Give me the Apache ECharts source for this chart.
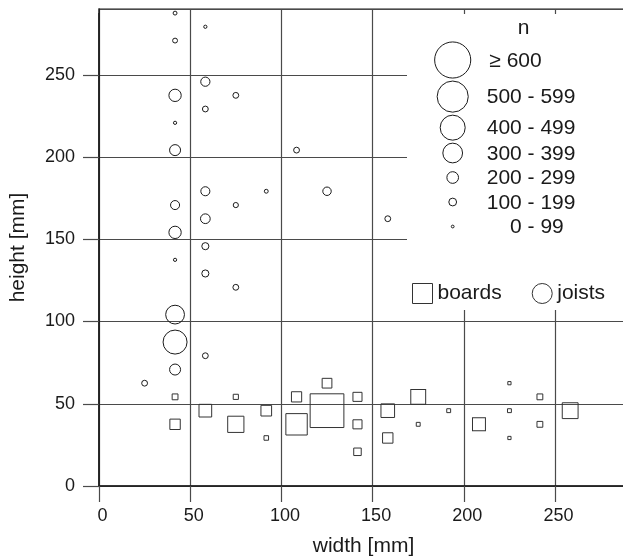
<!DOCTYPE html>
<html>
<head>
<meta charset="utf-8">
<script src="https://cdn.jsdelivr.net/npm/echarts@6/dist/echarts.min.js"></script>
<style>
  html, body { margin: 0; padding: 0; background: #fff; }
  #chart { width: 623px; height: 558px; }
</style>
</head>
<body>
<div id="chart"></div>
<script>
// Cross-section dimensions [mm] of sawn timber members and the number of pieces n per size
const boardWidth  = [41.7, 75.0, 58.3, 41.7, 75.0, 91.7, 91.7, 108.3, 108.3, 125.0, 125.0, 141.7, 141.7, 141.7, 158.3, 158.3, 175.0, 175.0, 191.7, 208.3, 225.0, 225.0, 225.0, 241.7, 241.7, 258.3];
const boardHeight = [54.2, 54.2, 45.8, 37.5, 37.5, 45.8, 29.2, 54.2, 37.5, 62.5, 45.8, 54.2, 37.5, 20.8, 45.8, 29.2, 54.2, 37.5, 45.8, 37.5, 62.5, 45.8, 29.2, 54.2, 37.5, 45.8];
const boardCount  = [105, 93, 228, 187, 292, 192, 82, 184, 385, 175, 607, 163, 163, 135, 245, 187, 268, 70, 70, 233, 58, 70, 58, 105, 105, 285];

const joistWidth  = [41.7, 58.3, 41.7, 58.3, 41.7, 75.0, 58.3, 41.7, 41.7, 108.3, 58.3, 91.7, 125.0, 41.7, 75.0, 58.3, 158.3, 41.7, 58.3, 41.7, 58.3, 75.0, 41.7, 41.7, 58.3, 41.7, 25.0];
const joistHeight = [287.5, 279.2, 270.8, 245.8, 237.5, 237.5, 229.2, 220.8, 204.2, 204.2, 179.2, 179.2, 179.2, 170.8, 170.8, 162.5, 162.5, 154.2, 145.8, 137.5, 129.2, 120.8, 104.2, 87.5, 79.2, 70.8, 62.5];
const joistCount  = [70, 58, 88, 166, 222, 105, 105, 58, 198, 105, 163, 70, 152, 163, 93, 175, 105, 222, 128, 58, 128, 105, 338, 432, 105, 198, 105];

const xTicks = [0, 50, 100, 150, 200, 250];
const yTicks = [0, 50, 100, 150, 200, 250];

// size classes of the n legend and a representative count for each
const sizeClassLabels = ['\u2265 600', '500 - 599', '400 - 499', '300 - 399', '200 - 299', '100 - 199', '0 - 99'];
const sizeClassCount  = [650, 560, 450, 355, 210, 140, 50];

const FONT = '"Liberation Sans", Arial, Helvetica, sans-serif';
const INK = '#1a1a1a';
const GRID = '#4a4a4a';
const AXIS_MAX = 290;
const TICK_LEN = 16;

// symbol edge length / diameter grows linearly with n
const sizeOf = n => Math.max(2.5, n / 18);

const pairs = (xs, ys, ns) => xs.map((x, i) => [x, ys[i], ns[i]]);

function textWidth(str, font) {
  const ctx = document.createElement('canvas').getContext('2d');
  ctx.font = font;
  return ctx.measureText(str).width;
}

function axis(name, nameGap, ticks, labelGap, labelPadding) {
  return {
    type: 'value',
    min: 0,
    max: AXIS_MAX,
    interval: 50,
    name: name,
    nameLocation: 'middle',
    nameGap: nameGap,
    nameTextStyle: { fontSize: 21, color: INK, fontFamily: FONT },
    axisLine: { show: true, onZero: false, lineStyle: { color: INK, width: 1.6 } },
    axisTick: { show: true, inside: false, length: TICK_LEN, lineStyle: { color: GRID, width: 1.2 } },
    axisLabel: {
      show: true, margin: TICK_LEN + labelGap, fontSize: 18, color: INK, fontFamily: FONT, padding: labelPadding,
      showMaxLabel: false,
      formatter: v => (ticks.indexOf(v) >= 0 ? String(v) : '')
    },
    splitLine: { show: true, lineStyle: { color: GRID, width: 1.2 } }
  };
}

// n legend: circles stacked with spacing driven by their size
const legendFont = '21px ' + FONT;
const legendCx = 452.7;
const hyphenX = 527.6;
const legendElements = [];
let rowY = 60;
sizeClassCount.forEach((n, i) => {
  const d = sizeOf(n);
  if (i > 0) {
    const prev = sizeOf(sizeClassCount[i - 1]);
    rowY += Math.max(prev / 2 + d / 2 + 3, 24.5);
  }
  legendElements.push({
    type: 'circle',
    z: 5,
    shape: { cx: legendCx, cy: rowY, r: d / 2 },
    style: { fill: 'none', stroke: INK, lineWidth: 1 }
  });
  const label = sizeClassLabels[i];
  const cut = label.indexOf(' - ');
  const left = cut >= 0 ? hyphenX - textWidth(label.slice(0, cut) + ' ', legendFont) : 489.3;
  legendElements.push({
    type: 'text',
    z: 5,
    x: left,
    y: rowY + 1,
    style: { text: label, font: legendFont, fill: INK, align: 'left', verticalAlign: 'middle' }
  });
});
legendElements.push({
  type: 'text',
  z: 5,
  x: 523.5,
  y: 28,
  style: { text: 'n', font: legendFont, fill: INK, align: 'center', verticalAlign: 'middle' }
});

const chart = echarts.init(document.getElementById('chart'), null, { renderer: 'canvas' });

chart.setOption({
  animation: false,
  backgroundColor: '#fff',
  textStyle: { fontFamily: FONT },
  grid: {
    left: 99, top: 9, right: -5, bottom: 72,
    show: true, borderColor: INK, borderWidth: 1.2, backgroundColor: 'transparent',
    containLabel: false, outerBoundsMode: 'none'
  },
  xAxis: axis('width [mm]', 50, xTicks, 5, [0, 0, 0, 7]),
  yAxis: axis('height [mm]', 70, yTicks, 8, 0),
  legend: {
    data: [{ name: 'boards', icon: 'rect' }, { name: 'joists', icon: 'circle' }],
    left: 412, top: 283, padding: 0,
    itemWidth: 20, itemHeight: 20, itemGap: 30,
    selectedMode: false,
    itemStyle: { color: '#fff', borderColor: '#333', borderWidth: 1 },
    textStyle: { fontSize: 21, color: INK, fontFamily: FONT },
    z: 6
  },
  graphic: [
    // white backdrop that clears the grid behind the legends
    { type: 'rect', z: 3, shape: { x: 407, y: 14, width: 230, height: 296 }, style: { fill: '#fff' } },
    // the axis end at the top carries no tick
    { type: 'rect', z: 3, shape: { x: 78, y: 5, width: 20.2, height: 8 }, style: { fill: '#fff' } },
    ...legendElements
  ],
  series: [
    {
      name: 'boards',
      type: 'scatter',
      symbol: 'rect',
      data: pairs(boardWidth, boardHeight, boardCount),
      symbolSize: v => sizeOf(v[2]),
      itemStyle: { color: 'rgba(0,0,0,0)', borderColor: '#333', borderWidth: 1, opacity: 1 },
      emphasis: { disabled: true },
      z: 2
    },
    {
      name: 'joists',
      type: 'scatter',
      symbol: 'circle',
      data: pairs(joistWidth, joistHeight, joistCount),
      symbolSize: v => sizeOf(v[2]),
      itemStyle: { color: 'rgba(0,0,0,0)', borderColor: INK, borderWidth: 1, opacity: 1 },
      emphasis: { disabled: true },
      z: 2
    }
  ]
});
</script>
</body>
</html>
